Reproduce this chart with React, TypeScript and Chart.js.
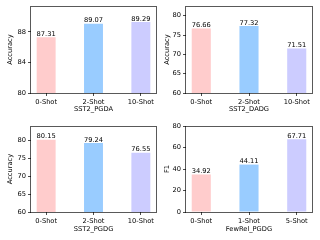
import React, { useEffect, useRef } from "react";
import { Chart, registerables } from "chart.js";

Chart.register(...registerables);

const barColors = ["#FFCCCC", "#99CCFF", "#CCCCFF"];

const pgdaLabels = ["0-Shot", "2-Shot", "10-Shot"];
const pgdaValues = [87.31, 89.07, 89.29];
const pgdaTicks = [80, 84, 88];

const dadgLabels = ["0-Shot", "2-Shot", "10-Shot"];
const dadgValues = [76.66, 77.32, 71.51];
const dadgTicks = [60, 65, 70, 75, 80];

const pgdgLabels = ["0-Shot", "2-Shot", "10-Shot"];
const pgdgValues = [80.15, 79.24, 76.55];
const pgdgTicks = [60, 65, 70, 75, 80];

const fewrelLabels = ["0-Shot", "1-Shot", "5-Shot"];
const fewrelValues = [34.92, 44.11, 67.71];
const fewrelTicks = [0, 20, 40, 60, 80];

const FS = 6.7;
const FONT = "'DejaVu Sans'";

type Panel = {
  xTitle: string;
  yTitle: string;
  labels: string[];
  values: number[];
  yTicks: number[];
  yMin: number;
  yMax: number;
  left: number;
  top: number;
  yW: number;
  padRight: number;
  xH: number;
  yTitlePad: number;
};

const panels: Panel[] = [
  { xTitle: "SST2_PGDA", yTitle: "Accuracy", labels: pgdaLabels, values: pgdaValues, yTicks: pgdaTicks, yMin: 80, yMax: 91.4, left: 0, top: 0, yW: 31, padRight: 4, xH: 27, yTitlePad: 5.9 },
  { xTitle: "SST2_DADG", yTitle: "Accuracy", labels: dadgLabels, values: dadgValues, yTicks: dadgTicks, yMin: 60, yMax: 82.5, left: 160, top: 0, yW: 26, padRight: 8, xH: 27, yTitlePad: 3.2 },
  { xTitle: "SST2_PGDG", yTitle: "Accuracy", labels: pgdgLabels, values: pgdgValues, yTicks: pgdgTicks, yMin: 60, yMax: 84, left: 0, top: 120, yW: 31, padRight: 4, xH: 28, yTitlePad: 6.2 },
  { xTitle: "FewRel_PGDG", yTitle: "F1", labels: fewrelLabels, values: fewrelValues, yTicks: fewrelTicks, yMin: 0, yMax: 80, left: 160, top: 120, yW: 26, padRight: 8, xH: 28, yTitlePad: 3 },
];

const framePlugin = {
  id: "frame",
  afterDraw(chart: any) {
    const { ctx, chartArea } = chart;
    ctx.save();
    ctx.strokeStyle = "rgba(0,0,0,0.65)";
    ctx.lineWidth = 1;
    ctx.strokeRect(
      Math.round(chartArea.left) - 0.5,
      Math.round(chartArea.top) + 0.5,
      Math.round(chartArea.right - chartArea.left) + 1,
      Math.round(chartArea.bottom - chartArea.top)
    );
    ctx.restore();
  },
};

const valuePlugin = {
  id: "values",
  afterDatasetsDraw(chart: any) {
    const { ctx } = chart;
    const meta = chart.getDatasetMeta(0);
    const ds = chart.data.datasets[0];
    ctx.save();
    ctx.font = `${FS}px ${FONT}`;
    ctx.fillStyle = "#000";
    ctx.textAlign = "center";
    ctx.textBaseline = "alphabetic";
    meta.data.forEach((el: any, i: number) => {
      const v = (ds.data[i] as any).y as number;
      ctx.fillText(v.toFixed(2), el.x, el.y - 1.5);
    });
    ctx.restore();
  },
};

function BarPanel({ p }: { p: Panel }) {
  const ref = useRef<HTMLCanvasElement | null>(null);
  useEffect(() => {
    if (!ref.current) return;
    const chart = new Chart(ref.current, {
      type: "bar",
      data: {
        datasets: [
          {
            data: p.values.map((v, i) => ({ x: i, y: v })),
            backgroundColor: barColors,
            borderWidth: 0,
            categoryPercentage: 1,
            barPercentage: 0.4,
          },
        ],
      },
      options: {
        animation: false,
        responsive: false,
        devicePixelRatio: 1,
        layout: { padding: { left: 0, top: 5, right: p.padRight, bottom: 0 } },
        plugins: { legend: { display: false }, tooltip: { enabled: false } },
        scales: {
          x: {
            type: "linear",
            min: -0.32,
            max: 2.32,
            offset: false,
            afterBuildTicks: (axis: any) => {
              axis.ticks = p.labels.map((_, i) => ({ value: i }));
            },
            afterFit: (axis: any) => {
              axis.height = p.xH;
            },
            ticks: {
              autoSkip: false,
              maxRotation: 0,
              padding: 2,
              color: "#000",
              font: { family: FONT, size: FS },
              callback: (v: any) => p.labels[Math.round(Number(v))],
            },
            grid: { display: true, offset: false, drawOnChartArea: false, drawTicks: true, tickLength: 3, color: "rgba(0,0,0,0.7)" },
            border: { display: false },
            title: { display: true, text: p.xTitle, color: "#000", font: { family: FONT, size: FS }, padding: { top: 0, bottom: 6.9 } },
          },
          y: {
            type: "linear",
            min: p.yMin,
            max: p.yMax,
            afterBuildTicks: (axis: any) => {
              axis.ticks = p.yTicks.map((v) => ({ value: v }));
            },
            afterFit: (axis: any) => {
              axis.width = p.yW;
            },
            ticks: {
              padding: 2,
              color: "#000",
              font: { family: FONT, size: FS },
              callback: (v: any) => String(v),
            },
            grid: { display: true, drawOnChartArea: false, drawTicks: true, tickLength: 3, color: "rgba(0,0,0,0.7)" },
            border: { display: false },
            title: { display: true, text: p.yTitle, color: "#000", font: { family: FONT, size: FS }, padding: { top: p.yTitlePad, bottom: 0 } },
          },
        },
      },
      plugins: [framePlugin, valuePlugin],
    } as any);
    return () => chart.destroy();
  }, [p]);
  return (
    <canvas
      ref={ref}
      width={160}
      height={120}
      style={{ position: "absolute", left: p.left, top: p.top, width: 160, height: 120 }}
    />
  );
}

export default function App() {
  return (
    <div style={{ position: "fixed", left: 0, top: 0, width: 320, height: 240, background: "#fff" }}>
      {panels.map((p, i) => (
        <BarPanel key={i} p={p} />
      ))}
    </div>
  );
}
